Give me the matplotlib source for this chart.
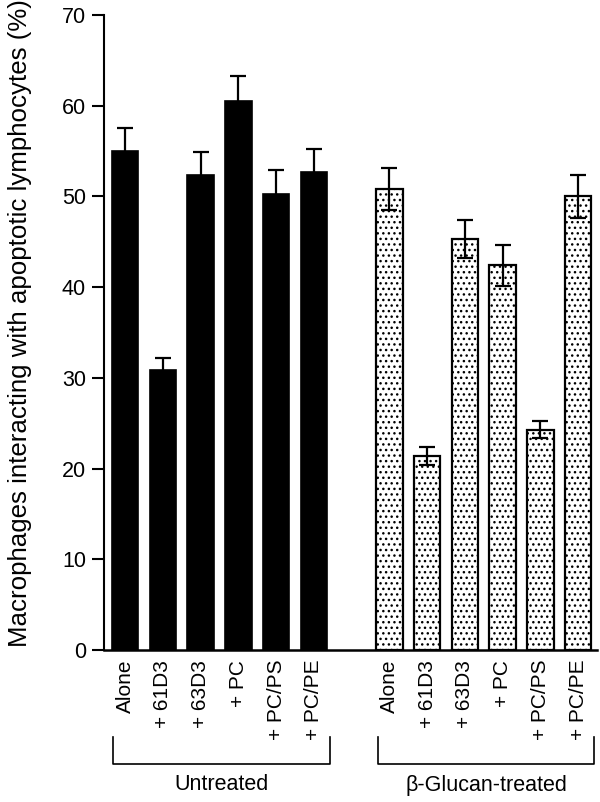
import matplotlib
matplotlib.use("Agg")
import matplotlib.pyplot as plt
import matplotlib.transforms as mtransforms
import numpy as np

plt.rcParams['font.family'] = ['Liberation Sans', 'DejaVu Sans']
plt.rcParams['hatch.linewidth'] = 1.0

conditions = ["Alone", "+ 61D3", "+ 63D3", "+ PC", "+ PC/PS", "+ PC/PE"]
untreated = [55.0, 30.9, 52.4, 60.5, 50.3, 52.7]
untreated_err = [2.55, 1.3, 2.5, 2.8, 2.6, 2.5]
glucan = [50.8, 21.4, 45.3, 42.4, 24.3, 50.0]
glucan_err = [2.3, 1.0, 2.1, 2.3, 0.95, 2.4]
group_names = ["Untreated", "β-Glucan-treated"]
yticks = [0, 10, 20, 30, 40, 50, 60, 70]

fig = plt.figure(figsize=(6.0, 8.02), dpi=100)
ax = fig.add_axes([104/600, 1-650/802, (597-104)/600, (650-15)/802])

n = len(conditions)
x_u = np.arange(n)
x_g = np.arange(n) + n + 1
w = 0.70

ax.bar(x_u, untreated, width=w, color='black', edgecolor='black', linewidth=1.2, zorder=2)
ax.errorbar(x_u, untreated, yerr=untreated_err, fmt='none', ecolor='black',
            elinewidth=1.6, capsize=5.8, capthick=1.6, zorder=3)
ax.bar(x_g, glucan, width=w, color='white', edgecolor='black', linewidth=1.6,
       hatch='...', zorder=2)
ax.errorbar(x_g, glucan, yerr=glucan_err, fmt='none', ecolor='black',
            elinewidth=1.6, capsize=5.8, capthick=1.6, zorder=3)

ax.set_ylim(0, 70)
ax.set_xlim(-0.56, x_g[-1] + 0.5)
ax.set_yticks(yticks)
ax.set_yticklabels([str(v) for v in yticks], fontsize=15.5)
ax.set_xticks(list(x_u) + list(x_g))
ax.set_xticklabels(conditions + conditions, rotation=90, fontsize=15)
ax.tick_params(axis='x', length=0, pad=7)
ax.tick_params(axis='y', length=9, width=1.5, direction='out', pad=4)
for s in ['top', 'right']:
    ax.spines[s].set_visible(False)
ax.spines['left'].set_linewidth(1.5)
ax.spines['bottom'].set_linewidth(1.8)

ax.set_ylabel("Macrophages interacting with apoptotic lymphocytes (%)", fontsize=18.6)
ax.yaxis.set_label_coords((32 - 104) / 493, (650 - 323) / 635)

trans = mtransforms.blended_transform_factory(ax.transData, fig.transFigure)
y_top = 1 - 737/802
y_bot = 1 - 764/802
for xs, name in [(x_u, group_names[0]), (x_g, group_names[1])]:
    xl = xs[0] - 0.31
    xr = xs[-1] + 0.43
    line = plt.Line2D([xl, xl, xr, xr], [y_top, y_bot, y_bot, y_top], transform=trans,
                      color='black', linewidth=1.2, clip_on=False)
    fig.add_artist(line)
    fig.text((xl + xr) / 2, 1 - 785/802, name, transform=trans, ha='center', va='center', fontsize=15.5)

fig.savefig("out.png", dpi=100)
